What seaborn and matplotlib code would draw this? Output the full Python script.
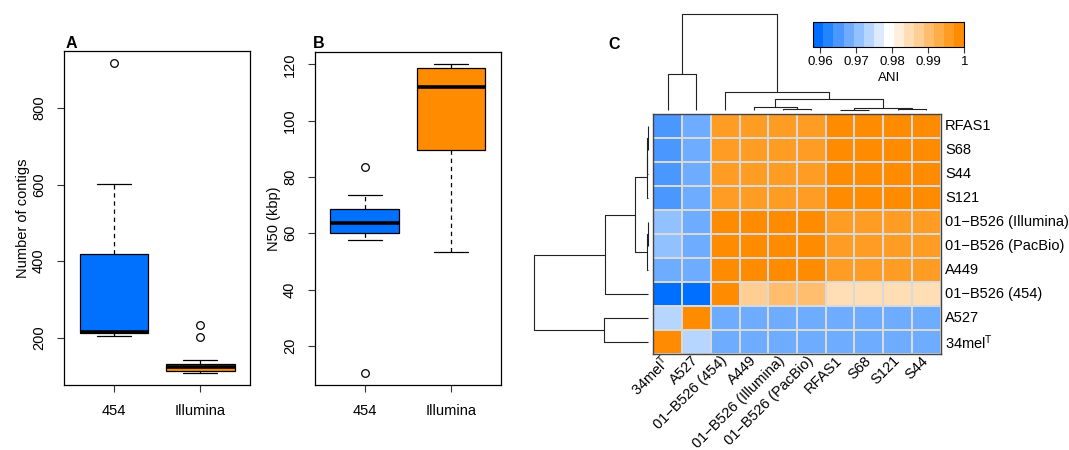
import numpy as np
import pandas as pd
import matplotlib
matplotlib.use("Agg")
import matplotlib.pyplot as plt
import seaborn as sns
from matplotlib.colors import ListedColormap, to_rgb

# ---------------- data ----------------
platforms = ["454", "Illumina"]
box_colors = ["#0070FF", "#FF8C00"]

contigs_454 = [205.2, 208, 211.3, 212.5, 213.9, 300, 417.3, 602.4, 917]
contigs_illumina = [108.4, 110, 112, 113.6, 116, 119, 122.3, 125, 128, 131.2, 141.6, 202.6, 234]

n50_454 = [10.5, 57.6, 59, 60, 61, 62.5, 63.6, 65, 67, 68.7, 71, 73.5, 83.7]
n50_illumina = [53.3, 75, 89.5, 105, 112, 115, 118.8, 119.5, 120]

contig_ticks = [200, 400, 600, 800]
n50_ticks = [20, 40, 60, 80, 100, 120]

col_labels = ["34mel$^\\mathrm{T}$", "A527", "01\u2212B526 (454)", "A449",
              "01\u2212B526 (Illumina)", "01\u2212B526 (PacBio)", "RFAS1", "S68", "S121", "S44"]
row_labels = ["RFAS1", "S68", "S44", "S121", "01\u2212B526 (Illumina)", "01\u2212B526 (PacBio)",
              "A449", "01\u2212B526 (454)", "A527", "34mel$^\\mathrm{T}$"]

ani = [
    [0.9655, 0.968, 0.996, 0.996, 0.996, 0.996, 1.000, 0.999, 0.999, 0.999],
    [0.9655, 0.968, 0.996, 0.996, 0.996, 0.996, 0.999, 1.000, 0.999, 0.999],
    [0.9655, 0.968, 0.996, 0.996, 0.996, 0.996, 0.999, 0.999, 0.999, 1.000],
    [0.9655, 0.968, 0.996, 0.996, 0.996, 0.996, 0.999, 0.999, 1.000, 0.999],
    [0.9705, 0.968, 0.999, 0.999, 1.000, 0.999, 0.996, 0.996, 0.996, 0.996],
    [0.9705, 0.968, 0.999, 0.999, 0.999, 1.000, 0.996, 0.996, 0.996, 0.996],
    [0.9680, 0.968, 0.999, 1.000, 0.999, 0.999, 0.996, 0.996, 0.996, 0.996],
    [0.9595, 0.9595, 1.000, 0.9875, 0.990, 0.990, 0.9845, 0.9845, 0.9845, 0.9845],
    [0.9735, 1.000, 0.968, 0.968, 0.968, 0.968, 0.968, 0.968, 0.968, 0.968],
    [1.0000, 0.9735, 0.968, 0.968, 0.968, 0.968, 0.968, 0.968, 0.968, 0.968],
]
ani_min, ani_max = 0.958, 1.0
cbar_ticks = [0.96, 0.97, 0.98, 0.99, 1.0]
cbar_ticklabels = ["0.96", "0.97", "0.98", "0.99", "1"]

# dendrograms: (height, left, right); leaves = display index
col_tree = (1.0, (0.375, 0, 1),
            (0.19, 2, (0.111, (0.028, 3, (0.008, 4, 5)),
                       (0.018, (0.005, 6, 7), (0.006, 8, 9)))))
row_tree = (1.0, (0.38, (0.117, (0.015, (0.009, (0.004, 0, 1), 2), 3),
                         (0.015, (0.004, 4, 5), 6)), 7),
            (0.389, 8, 9))

# ---------------- style ----------------
sns.set_style("white")
plt.rcParams["font.family"] = ["Liberation Sans", "DejaVu Sans"]
plt.rcParams["mathtext.fontset"] = "custom"
plt.rcParams["mathtext.rm"] = "Liberation Sans"
plt.rcParams["mathtext.it"] = "Liberation Sans:italic"
for key in ["text.color", "axes.labelcolor", "xtick.color", "ytick.color", "axes.edgecolor"]:
    plt.rcParams[key] = "black"

W, H = 1069, 450
fig = plt.figure(figsize=(W / 100, H / 100), dpi=100)


def rect(x0, y0, x1, y1):
    return [x0 / W, 1 - y1 / H, (x1 - x0) / W, (y1 - y0) / H]


axA = fig.add_axes(rect(64, 51, 250, 385))
axB = fig.add_axes(rect(315, 52, 501, 385))
axH = fig.add_axes(rect(653.3, 114.3, 940.7, 354.3))
axCD = fig.add_axes(rect(653.3, 14, 940.7, 110))
axRD = fig.add_axes(rect(534.3, 114.3, 648.3, 354.3))
cax = fig.add_axes(rect(813.3, 22, 964.3, 46.7))


def box_panel(ax, v454, vill, ylabel, yticks):
    df = pd.DataFrame({
        "platform": [platforms[0]] * len(v454) + [platforms[1]] * len(vill),
        "value": list(v454) + list(vill),
    })
    sns.boxplot(data=df, x="platform", y="value", hue="platform",
                order=platforms, hue_order=platforms, palette=box_colors,
                width=0.8, saturation=1, linecolor="black", linewidth=0.9,
                whis=1.5, fliersize=5.5, legend=False, ax=ax,
                whiskerprops=dict(linestyle=(0, (3.5, 3)), color="black"),
                capprops=dict(color="black"),
                medianprops=dict(linewidth=2.6, color="black"),
                flierprops=dict(marker="o", markerfacecolor="none",
                                markeredgecolor="black", markeredgewidth=0.9))
    lo, hi = df["value"].min(), df["value"].max()
    pad = 0.04 * (hi - lo)
    ax.set_ylim(lo - pad, hi + pad)
    ax.set_xlim(-0.58, 1.58)
    ax.set_yticks(yticks)
    ax.set_xlabel("")
    ax.set_ylabel(ylabel, fontsize=10.5, labelpad=1.5, color="black")
    for sp in ax.spines.values():
        sp.set_visible(True)
        sp.set_color("black")
        sp.set_linewidth(0.9)
    ax.tick_params(axis="both", direction="out", length=5, width=0.8,
                   labelsize=10.5, color="#333333", labelcolor="black",
                   left=True, bottom=True)
    ax.tick_params(axis="y", labelrotation=90, pad=8)
    ax.tick_params(axis="x", pad=9)
    for lbl in ax.get_yticklabels():
        lbl.set_va("center")


box_panel(axA, contigs_454, contigs_illumina, "Number of contigs", contig_ticks)
box_panel(axB, n50_454, n50_illumina, "N50 (kbp)", n50_ticks)

# ---------------- heatmap ----------------
blue, white, orange = np.array(to_rgb("#006EFF")), np.ones(3), np.array(to_rgb("#FF8C00"))
colors15 = [blue + (white - blue) * k / 7 for k in range(8)] + \
           [white + (orange - white) * k / 7 for k in range(1, 8)]
cmap = ListedColormap(colors15)

ani_df = pd.DataFrame(ani, index=row_labels, columns=col_labels)
sns.heatmap(ani_df, ax=axH, cmap=cmap, vmin=ani_min, vmax=ani_max,
            linewidths=1.2, linecolor="#d9d9d9", cbar=True, cbar_ax=cax,
            cbar_kws={"orientation": "horizontal", "ticks": cbar_ticks},
            xticklabels=True, yticklabels=True)
axH.set_xticklabels(col_labels, rotation=45, ha="right", va="center",
                    rotation_mode="anchor", fontsize=10.5, color="black")
axH.yaxis.tick_right()
axH.set_yticklabels(row_labels, rotation=0, ha="left", va="center",
                    fontsize=10.5, color="black")
axH.tick_params(axis="x", length=0, pad=3)
axH.tick_params(axis="y", length=0, pad=3, right=True, left=False,
                labelright=True, labelleft=False)
axH.set_xlabel("")
axH.set_ylabel("")
for sp in axH.spines.values():
    sp.set_visible(True)
    sp.set_color("#444444")
    sp.set_linewidth(1.0)

cb = axH.collections[0].colorbar
cb.set_ticks(cbar_ticks, labels=cbar_ticklabels)
cb.outline.set_linewidth(0.8)
cb.outline.set_edgecolor("black")
cax.tick_params(axis="x", direction="out", length=4, width=0.8, labelsize=9.5,
                pad=2.5, bottom=True, color="#333333", labelcolor="black")
cb.set_label("ANI", fontsize=9.5, labelpad=3, color="black")


# ---------------- dendrograms ----------------
def draw_dendro(ax, tree, orient):
    def rec(node):
        if isinstance(node, int):
            return node + 0.5, 0.0
        h, l, r = node
        pl, hl = rec(l)
        pr, hr = rec(r)
        pos = [pl, pl, pr, pr]
        hts = [hl, h, h, hr]
        if orient == "top":
            ax.plot(pos, hts, color="#222222", lw=0.8, clip_on=False,
                    solid_capstyle="butt")
        else:
            ax.plot(hts, pos, color="#222222", lw=0.8, clip_on=False,
                    solid_capstyle="butt")
        return (pl + pr) / 2, h

    rec(tree)
    root_h = tree[0]
    if orient == "top":
        ax.set_xlim(0, 10)
        ax.set_ylim(0, root_h)
    else:
        ax.set_xlim(root_h, 0)
        ax.set_ylim(10, 0)
    ax.axis("off")


draw_dendro(axCD, col_tree, "top")
draw_dendro(axRD, row_tree, "left")

# ---------------- panel letters ----------------
for lab, x, y in [("A", 71.7, 43.3), ("B", 319, 43.3), ("C", 614.5, 44.5)]:
    fig.text(x / W, 1 - y / H, lab, fontsize=11.5, fontweight="bold",
             ha="center", va="center", color="black")

fig.savefig("out.png", dpi=100)
